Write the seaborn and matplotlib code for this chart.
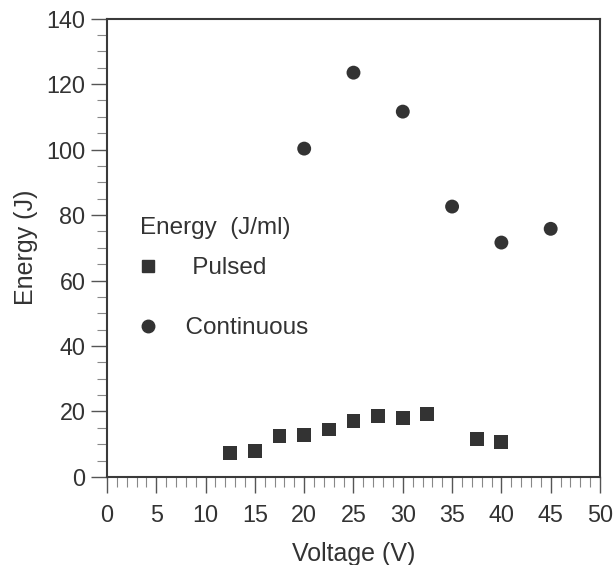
import matplotlib
matplotlib.use("Agg")
import matplotlib.pyplot as plt
from matplotlib.lines import Line2D
from matplotlib.ticker import MultipleLocator
import seaborn as sns
import pandas as pd

# Pulsed operation: voltage (V) and energy (J)
pulsed_voltage = [12.5, 15, 17.5, 20, 22.5, 25, 27.5, 30, 32.5, 37.5, 40]
pulsed_energy = [7.4, 8.0, 12.6, 12.7, 14.5, 17.2, 18.7, 18.1, 19.2, 11.7, 10.8]

# Continuous operation
continuous_voltage = [20, 25, 30, 35, 40, 45]
continuous_energy = [100.3, 123.5, 111.6, 82.6, 71.6, 75.8]

x_ticks = [0, 5, 10, 15, 20, 25, 30, 35, 40, 45, 50]
y_ticks = [0, 20, 40, 60, 80, 100, 120, 140]

sns.set_theme(style="white")
plt.rcParams["font.family"] = ["Liberation Sans", "DejaVu Sans"]

ink = "#333333"

df = pd.concat([
    pd.DataFrame({"Voltage": pulsed_voltage, "Energy": pulsed_energy, "Mode": "Pulsed"}),
    pd.DataFrame({"Voltage": continuous_voltage, "Energy": continuous_energy, "Mode": "Continuous"}),
], ignore_index=True)

fig = plt.figure(figsize=(6.16, 5.65), dpi=100)
ax = fig.add_axes([0.1737, 0.1558, 0.8003, 0.8112])

sns.scatterplot(data=df, x="Voltage", y="Energy", style="Mode", hue="Mode",
                markers={"Pulsed": "s", "Continuous": "o"},
                palette={"Pulsed": ink, "Continuous": ink},
                s=100, edgecolor="none", legend=False, ax=ax)

ax.set_xlim(0, 50)
ax.set_ylim(0, 140)
ax.set_xticks(x_ticks)
ax.set_yticks(y_ticks)
ax.xaxis.set_minor_locator(MultipleLocator(1))
ax.yaxis.set_minor_locator(MultipleLocator(5))

for sp in ax.spines.values():
    sp.set_color("#3a3a3a")
    sp.set_linewidth(1.5)

ax.tick_params(axis="both", which="major", direction="out", length=11.5, width=1.0,
               color="#555555", labelsize=16.8, labelcolor=ink, pad=4,
               bottom=True, left=True, top=False, right=False)
ax.tick_params(axis="x", which="major", pad=8)
ax.tick_params(axis="both", which="minor", direction="out", length=7, width=0.8,
               color="#888888", bottom=True, left=True, top=False, right=False)

ax.set_xlabel("Voltage (V)", fontsize=18, color=ink, labelpad=11)
ax.set_ylabel("Energy (J)", fontsize=18, color=ink, labelpad=6)

# Legend title drawn as axis text, entries as a frameless legend below it
ax.text(0.067, 0.543, "Energy  (J/ml)", transform=ax.transAxes, fontsize=17.5,
        color=ink, ha="left", va="center")

handles = [
    Line2D([], [], linestyle="none", marker="s", markersize=9, color=ink, label="   Pulsed"),
    Line2D([], [], linestyle="none", marker="o", markersize=9, color=ink, label="  Continuous"),
]
leg = ax.legend(handles=handles, loc="upper left",
                bbox_to_anchor=(0.058, 0.479), frameon=False, fontsize=17.5,
                labelspacing=1.55, handletextpad=0.5, handlelength=1.0,
                borderaxespad=0, borderpad=0)
for t in leg.get_texts():
    t.set_color(ink)

fig.savefig("out.png", dpi=100)
